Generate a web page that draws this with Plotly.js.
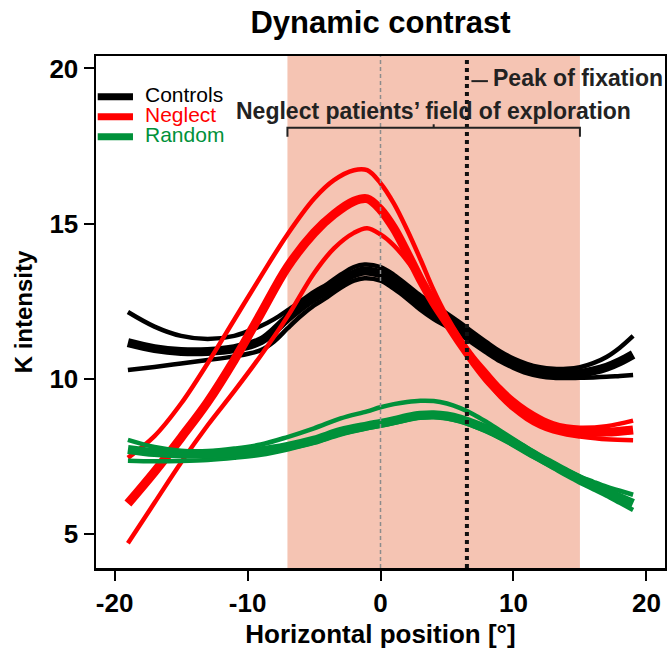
<!DOCTYPE html>
<html>
<head>
<meta charset="utf-8">
<script src="https://cdn.plot.ly/plotly-3.0.1.min.js"></script>
<style>html,body{margin:0;padding:0;background:#fff;}#chart{width:667px;height:649px;}</style>
</head>
<body>
<div id="chart"></div>
<script>
// ---- data ----
const groupNames = ['Controls', 'Neglect', 'Random'];
const groupColors = ['#000000', '#ff0000', '#00913a'];

const controlsX = [-19,-17,-15,-13,-11,-9,-8,-7,-6,-5,-4,-3,-2,-1.2,0,1,2,3,4,5,6,7,8,9,10,11,12,13,14,15,16,17,18,19];
const controlsMain  = [11.16,10.97,10.88,10.88,10.97,11.22,11.55,11.95,12.3,12.6,12.85,13.15,13.38,13.47,13.38,13.12,12.8,12.45,12.15,11.9,11.62,11.3,11.0,10.72,10.5,10.33,10.22,10.16,10.15,10.17,10.25,10.37,10.55,10.78];
const controlsUpper = [12.15,11.68,11.38,11.28,11.38,11.7,11.92,12.2,12.5,12.8,13.05,13.35,13.6,13.68,13.6,13.35,13.02,12.68,12.38,12.1,11.8,11.48,11.17,10.88,10.65,10.48,10.37,10.32,10.32,10.37,10.5,10.7,11.0,11.38];
const controlsLower = [10.28,10.38,10.49,10.6,10.72,10.92,11.2,11.62,12.02,12.36,12.63,12.93,13.16,13.24,13.16,12.9,12.58,12.22,11.92,11.68,11.42,11.12,10.83,10.56,10.35,10.18,10.08,10.03,10.02,10.03,10.04,10.06,10.09,10.12];

const neglectX = [-19,-17,-15,-13,-11,-9,-7,-5,-3.5,-2,-1,0,1,2,3,4,5,6,7,8,9,10,11,12,13,14,15,17,19];
const neglectMain  = [5.98,7.0,8.1,9.25,10.6,12.1,13.6,14.7,15.3,15.72,15.8,15.45,14.85,14.05,13.2,12.45,11.8,11.15,10.55,10.0,9.55,9.15,8.85,8.6,8.45,8.35,8.3,8.28,8.35];
const neglectUpper = [7.45,8.15,9.2,10.5,11.9,13.3,14.65,15.8,16.4,16.72,16.72,16.3,15.65,14.8,13.85,12.85,12.0,11.3,10.7,10.2,9.72,9.32,9.0,8.75,8.56,8.46,8.42,8.47,8.65];
const neglectLower = [4.7,6.0,7.3,8.5,9.6,10.75,12.0,13.4,14.2,14.7,14.85,14.65,14.3,13.8,13.2,12.55,11.9,11.2,10.5,9.92,9.42,9.02,8.7,8.46,8.3,8.2,8.14,8.05,8.02];

const randomX = [-19,-17,-15,-13,-11,-9,-7,-5,-3,-1,0,1,2,3,4,5,6,7,8,9,10,11,12,13,14,15,16,17,18,19];
const randomMain  = [7.72,7.62,7.57,7.58,7.62,7.68,7.82,8.02,8.3,8.48,8.56,8.65,8.75,8.82,8.84,8.8,8.7,8.55,8.38,8.18,7.95,7.7,7.45,7.22,6.99,6.77,6.56,6.36,6.17,5.98];
const randomUpper = [8.03,7.8,7.68,7.67,7.75,7.88,8.12,8.4,8.72,8.95,9.08,9.18,9.25,9.29,9.28,9.2,9.05,8.85,8.6,8.33,8.05,7.78,7.52,7.28,7.05,6.85,6.68,6.52,6.39,6.26];
const randomLower = [7.36,7.34,7.35,7.38,7.45,7.55,7.72,7.93,8.2,8.4,8.48,8.57,8.67,8.74,8.76,8.72,8.62,8.47,8.29,8.08,7.85,7.6,7.36,7.12,6.88,6.65,6.44,6.23,6.0,5.77];

const xTickVals = [-20, -10, 0, 10, 20];
const xTickText = ['-20', '-10', '0', '10', '20'];
const yTickVals = [5, 10, 15, 20];
const yTickText = ['5', '10', '15', '20'];

const fieldOfExploration = [-7, 15];
const fieldCentre = 4;
const peakOfFixation = 6.5;

// ---- styling ----
const FONT = 'Liberation Sans, Arial, Helvetica, sans-serif';
const THICK = 9, THIN = 4.5;

function curve(x, y, color, width) {
  return {
    x: x, y: y, type: 'scatter', mode: 'lines',
    line: {color: color, width: width, shape: 'spline', smoothing: 1},
    hoverinfo: 'skip', showlegend: false
  };
}

const groups = [
  [controlsX, controlsUpper, controlsMain, controlsLower],
  [neglectX, neglectUpper, neglectMain, neglectLower],
  [randomX, randomUpper, randomMain, randomLower]
];
const traces = [];
groups.forEach((g, i) => {
  traces.push(curve(g[0], g[1], groupColors[i], THIN));
  traces.push(curve(g[0], g[3], groupColors[i], THIN));
  traces.push(curve(g[0], g[2], groupColors[i], THICK));
});

const legendY = [0.9205, 0.8814, 0.8424];
const shapes = [
  {type: 'rect', xref: 'x', yref: 'paper', x0: fieldOfExploration[0], x1: fieldOfExploration[1], y0: 0, y1: 1,
   fillcolor: '#f5c4b3', line: {width: 0}, layer: 'below'},
  {type: 'line', xref: 'x', yref: 'paper', x0: 0, x1: 0, y0: 0, y1: 1,
   line: {color: '#8c8c8c', width: 1.5, dash: '4px,3px'}, layer: 'above'},
  {type: 'line', xref: 'x', yref: 'paper', x0: peakOfFixation, x1: peakOfFixation, y0: 0, y1: 1,
   line: {color: '#111111', width: 4, dash: '4px,4px'}, layer: 'above'},
  {type: 'path', xref: 'x', yref: 'y',
   path: `M ${fieldOfExploration[0]} 17.8 L ${fieldOfExploration[0]} 18.09 L ${fieldOfExploration[1]} 18.09 L ${fieldOfExploration[1]} 17.8`,
   line: {color: '#222222', width: 2}},
  {type: 'line', xref: 'x', yref: 'y', x0: fieldCentre, x1: fieldCentre, y0: 18.09, y1: 18.2,
   line: {color: '#222222', width: 2}},
  {type: 'line', xref: 'x', yref: 'y', x0: 6.84, x1: 8.08, y0: 19.59, y1: 19.59,
   line: {color: '#222222', width: 2}}
];
groupNames.forEach((n, i) => {
  shapes.push({type: 'line', xref: 'paper', yref: 'paper', x0: 0.003, x1: 0.065, y0: legendY[i], y1: legendY[i],
    line: {color: groupColors[i], width: 7}});
});

const annotations = [
  {xref: 'x', yref: 'y', x: fieldCentre, y: 18.62, text: 'Neglect patients\u2019 field of exploration',
   showarrow: false, xanchor: 'center', yanchor: 'middle',
   font: {family: FONT, size: 23, weight: 700, color: '#222222'}},
  {xref: 'x', yref: 'y', x: 8.3, y: 19.7, text: 'Peak of fixation',
   showarrow: false, xanchor: 'left', yanchor: 'middle',
   font: {family: FONT, size: 23, weight: 700, color: '#222222'}}
];
groupNames.forEach((n, i) => {
  annotations.push({xref: 'paper', yref: 'paper', x: 0.083, y: legendY[i] + 0.004, text: n,
    showarrow: false, xanchor: 'left', yanchor: 'middle',
    font: {family: FONT, size: 21, color: groupColors[i]}});
});

const layout = {
  width: 667, height: 649,
  margin: {l: 96, r: 2, t: 56, b: 81},
  paper_bgcolor: '#ffffff', plot_bgcolor: '#ffffff',
  showlegend: false,
  title: {text: 'Dynamic contrast', xref: 'paper', x: 0.5, xanchor: 'center',
          yref: 'container', y: 1 - 22 / 649, yanchor: 'middle',
          font: {family: FONT, size: 31, weight: 700, color: '#000000'}},
  xaxis: {
    range: [-21.4, 21.4], tickvals: xTickVals, ticktext: xTickText,
    showgrid: false, zeroline: false, showline: true, linecolor: '#000', linewidth: 2.5, mirror: true,
    ticks: 'outside', ticklen: 10, tickwidth: 2, tickcolor: '#000',
    tickfont: {family: FONT, size: 26, weight: 700, color: '#000'},
    title: {text: 'Horizontal position [\u00b0]', standoff: 8,
            font: {family: FONT, size: 26, weight: 700, color: '#000'}}
  },
  yaxis: {
    range: [3.9, 20.4], tickvals: yTickVals, ticktext: yTickText,
    showgrid: false, zeroline: false, showline: true, linecolor: '#000', linewidth: 2.5, mirror: true,
    ticks: 'outside', ticklen: 10, tickwidth: 2, tickcolor: '#000',
    tickfont: {family: FONT, size: 26, weight: 700, color: '#000'},
    title: {text: 'K intensity', standoff: 10,
            font: {family: FONT, size: 24, weight: 700, color: '#000'}}
  },
  shapes: shapes,
  annotations: annotations
};

Plotly.newPlot('chart', traces, layout, {displayModeBar: false, staticPlot: true});
</script>
</body>
</html>
